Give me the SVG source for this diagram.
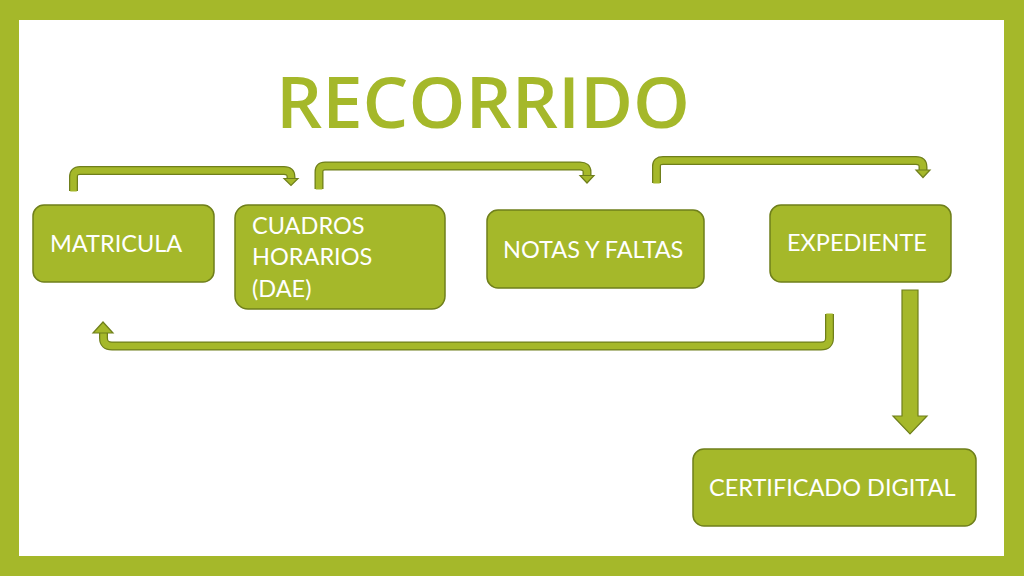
<svg xmlns="http://www.w3.org/2000/svg" width="1024" height="576" viewBox="0 0 1024 576">
<defs>
<style>
.box{fill:#a5b82a;stroke:#6f7f1b;stroke-width:1.5}
.lbl{font-family:Lato,"Open Sans","Liberation Sans",sans-serif;font-size:23.5px;fill:#ffffff}
.title{font-family:"Open Sans","Liberation Sans",sans-serif;font-weight:600;font-size:70px;fill:#a5b82a}
.edgeo{fill:none;stroke:#6f7f1b;stroke-width:9}
.edgei{fill:none;stroke:#a5b82a;stroke-width:6.5}
.head{fill:#a5b82a;stroke:#6f7f1b;stroke-width:1.2;stroke-linejoin:miter}
</style>
</defs>
<rect x="0" y="0" width="1024" height="576" fill="#a5b82a"/>
<rect x="19" y="20" width="985" height="536" fill="#ffffff"/>
<text class="title" x="483" y="128" text-anchor="middle" textLength="414" lengthAdjust="spacingAndGlyphs">RECORRIDO</text>
<g id="connectors">
<g id="e1">
<path class="edgeo" d="M73.5 191 V177 Q73.5 170.5 80 170.5 H284 Q291 170.5 291 177 V179"/>
<path class="edgei" d="M73.5 191.5 V177 Q73.5 170.5 80 170.5 H284 Q291 170.5 291 177 V180"/>
<polygon class="head" points="284,178.5 298,178.5 291,185.5"/>
</g>
<g id="e2">
<path class="edgeo" d="M319 189 V172 Q319 166 325 166 H580 Q587 166 587 172 V176"/>
<path class="edgei" d="M319 189.5 V172 Q319 166 325 166 H580 Q587 166 587 172 V177"/>
<polygon class="head" points="580,175.5 594,175.5 587,183"/>
</g>
<g id="e3">
<path class="edgeo" d="M656.5 183 V166 Q656.5 160.5 663 160.5 H916 Q923 160.5 923 167 V171"/>
<path class="edgei" d="M656.5 183.5 V166 Q656.5 160.5 663 160.5 H916 Q923 160.5 923 167 V172"/>
<polygon class="head" points="916,170 930,170 923,177.5"/>
</g>
<g id="e4">
<path class="edgeo" d="M829.5 314 V338 Q829.5 346 821 346 H112 Q103.5 346 103.5 338 V332"/>
<path class="edgei" d="M829.5 313.5 V338 Q829.5 346 821 346 H112 Q103.5 346 103.5 338 V331"/>
<polygon class="head" points="93,333 113,333 103,322"/>
</g>
<g id="e5">
<polygon class="head" points="902,290 918,290 918,416 927,416 910,434 893,416 902,416"/>
</g>
</g>
<g id="n1">
<rect class="box" x="33" y="205" width="181" height="77" rx="11"/>
<text class="lbl" x="50" y="252">MATRICULA</text>
</g>
<g id="n2">
<rect class="box" x="235" y="205" width="210" height="104" rx="13"/>
<text class="lbl" x="252" y="234">CUADROS</text>
<text class="lbl" x="252" y="265">HORARIOS</text>
<text class="lbl" x="252" y="297">(DAE)</text>
</g>
<g id="n3">
<rect class="box" x="487" y="210" width="217" height="78" rx="11"/>
<text class="lbl" x="503" y="258">NOTAS Y FALTAS</text>
</g>
<g id="n4">
<rect class="box" x="770" y="205" width="181" height="77" rx="11"/>
<text class="lbl" x="787" y="251">EXPEDIENTE</text>
</g>
<g id="n5">
<rect class="box" x="693" y="449" width="283" height="77" rx="11"/>
<text class="lbl" x="709" y="496">CERTIFICADO DIGITAL</text>
</g>
</svg>
